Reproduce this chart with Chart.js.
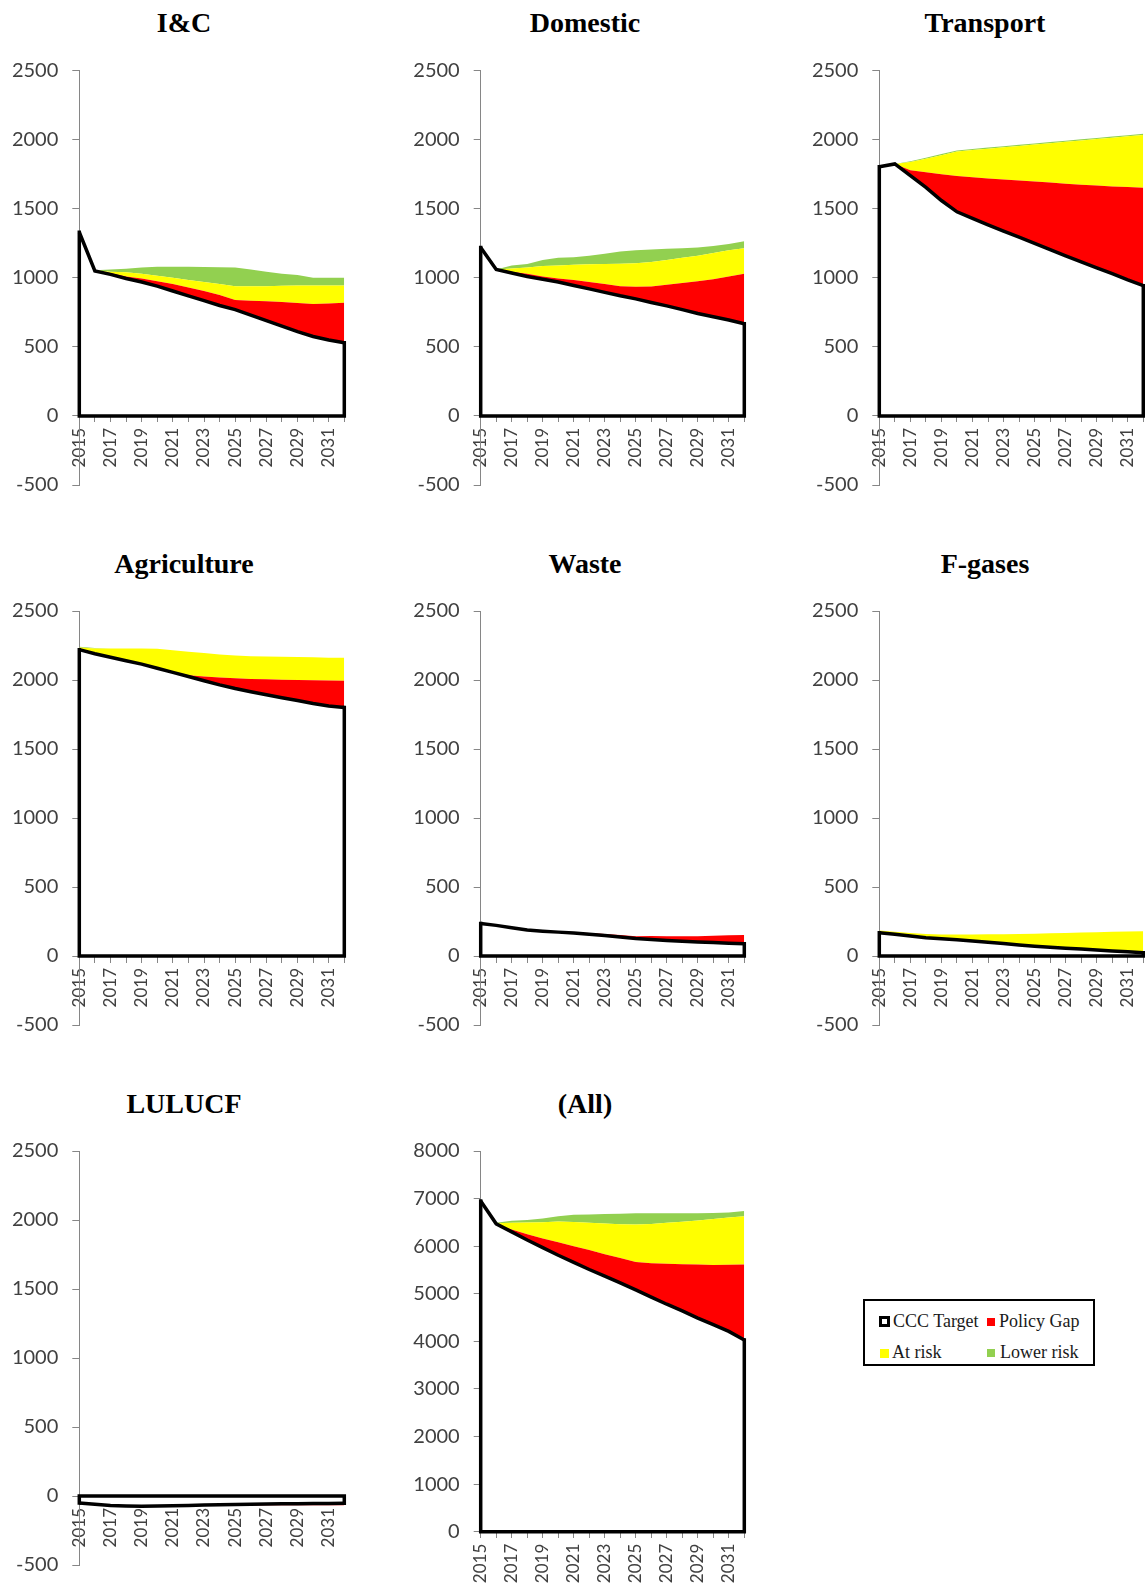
<!DOCTYPE html>
<html>
<head>
<meta charset="utf-8">
<script src="https://cdn.jsdelivr.net/npm/chart.js@4.4.1/dist/chart.umd.min.js"></script>
<style>
  html, body { margin: 0; padding: 0; background: #fff; }
  body { position: relative; width: 1145px; height: 1584px; overflow: hidden; }
  canvas { position: absolute; }
  .ptitle { position: absolute; width: 400px; text-align: center; font-family: "Liberation Serif", serif;
            font-weight: bold; font-size: 28px; line-height: 28px; color: #000; white-space: nowrap; }
  #legend { position: absolute; left: 863px; top: 1299px; width: 232px; height: 67px;
            border: 2px solid #000; box-sizing: border-box; }
  .sw { position: absolute; box-sizing: border-box; }
  .lt { position: absolute; font-family: "Liberation Serif", serif; font-size: 18px;
        line-height: 18px; color: #1a1a1a; white-space: nowrap; }
</style>
</head>
<body>
<div id="legend"></div>
<script>
// Years on the category axis (every other one is labelled)
const years = ['2015','2016','2017','2018','2019','2020','2021','2022','2023',
               '2024','2025','2026','2027','2028','2029','2030','2031','2032'];

// Industry & commercial
const icTarget    = [1330,1050,1025,995,970,940,905,870,835,800,770,730,690,650,610,575,550,530];
const icGap       = [0,5,10,15,25,35,50,60,70,75,70,105,140,175,208,235,265,290];
const icAtRisk    = [0,0,10,30,35,40,45,55,65,80,100,105,110,117,127,135,130,125];
const icLowerRisk = [0,0,15,25,45,65,80,95,108,122,135,120,105,88,75,55,55,55];

// Domestic
const domTarget    = [1220,1060,1035,1010,990,970,945,920,895,870,848,822,797,770,742,718,695,668];
const domGap       = [0,0,10,20,20,25,40,50,60,70,87,115,153,192,233,272,315,362];
const domAtRisk    = [0,0,23,45,75,95,110,128,145,162,170,178,180,183,185,190,190,185];
const domLowerRisk = [0,0,22,25,45,55,55,62,75,88,95,90,80,70,60,50,45,50];

// Transport
const trTarget    = [1805,1825,1740,1655,1560,1478,1430,1383,1338,1295,1250,1205,1160,1115,1072,1030,985,943];
const trGap       = [0,0,40,110,190,259,298,337,374,410,447,485,522,560,596,632,672,709];
const trAtRisk    = [0,0,58,97,138,178,197,215,233,250,268,285,303,320,337,353,368,383];
const trLowerRisk = [0,0,6,7,8,8,8,8,8,8,8,8,8,8,8,8,8,8];

// Agriculture
const agTarget    = [2220,2190,2165,2140,2115,2085,2055,2025,1995,1965,1938,1915,1893,1872,1851,1830,1812,1800];
const agGap       = [0,0,0,0,0,0,5,10,30,53,74,93,112,130,149,168,184,195];
const agAtRisk    = [15,38,63,88,113,142,155,170,170,167,165,165,165,166,166,166,166,166];
const agLowerRisk = [6,3,0,0,0,0,0,0,0,0,0,0,0,0,0,0,0,0];

// Waste
const wsTarget    = [235,222,205,188,180,173,166,158,148,137,127,120,113,107,102,97,92,88];
const wsGap       = [0,0,2,3,3,3,5,8,12,15,17,25,30,36,42,50,58,65];
const wsAtRisk    = [0,0,0,0,0,0,0,0,0,0,0,0,0,0,0,0,0,0];
const wsLowerRisk = [0,0,0,0,0,0,0,0,0,0,0,0,0,0,0,0,0,0];

// F-gases
const fgTarget    = [168,158,145,133,125,117,109,100,90,80,71,64,57,50,43,36,30,24];
const fgGap       = [0,0,0,0,0,0,0,0,0,0,0,0,0,0,0,0,0,0];
const fgAtRisk    = [17,17,21,27,30,38,47,57,68,80,91,101,110,120,130,139,148,156];
const fgLowerRisk = [0,0,0,0,0,0,0,0,0,0,0,0,0,0,0,0,0,0];

// Land use, land-use change and forestry
const luTarget    = [-50,-60,-68,-72,-74,-72,-70,-68,-66,-64,-62,-60,-58,-57,-56,-55,-54,-53];
const luGap       = [0,0,0,0,0,0,-2,-3,-4,-5,-6,-8,-9,-10,-11,-12,-13,-14];
const luAtRisk    = [0,0,0,0,0,0,0,0,0,0,0,0,0,0,0,0,0,0];
const luLowerRisk = [0,0,0,0,0,0,0,0,0,0,0,0,0,0,0,0,0,0];

// All sectors
const allTarget    = [6950,6470,6300,6130,5970,5810,5660,5510,5370,5230,5080,4930,4780,4640,4490,4350,4210,4030];
const allGap       = [0,0,50,120,190,270,340,410,460,520,585,710,850,980,1125,1255,1400,1585];
const allAtRisk    = [0,10,140,245,345,440,510,570,645,710,790,825,860,895,925,965,990,1015];
const allLowerRisk = [0,10,45,55,75,110,150,175,200,220,235,225,200,175,150,125,110,110];

// Legend / series names
const seriesNames = ['CCC Target', 'Policy Gap', 'At risk', 'Lower risk'];

const COLORS = { target: '#ffffff', gap: '#ff0000', atRisk: '#ffff00', lowerRisk: '#92d050' };

const panels = [
  { title: 'I&C',         col: 0, row: 0, series: [icTarget, icGap, icAtRisk, icLowerRisk],     yMin: -500, yMax: 2500, yStep: 500 },
  { title: 'Domestic',    col: 1, row: 0, series: [domTarget, domGap, domAtRisk, domLowerRisk], yMin: -500, yMax: 2500, yStep: 500 },
  { title: 'Transport',   col: 2, row: 0, series: [trTarget, trGap, trAtRisk, trLowerRisk],     yMin: -500, yMax: 2500, yStep: 500 },
  { title: 'Agriculture', col: 0, row: 1, series: [agTarget, agGap, agAtRisk, agLowerRisk],     yMin: -500, yMax: 2500, yStep: 500 },
  { title: 'Waste',       col: 1, row: 1, series: [wsTarget, wsGap, wsAtRisk, wsLowerRisk],     yMin: -500, yMax: 2500, yStep: 500 },
  { title: 'F-gases',     col: 2, row: 1, series: [fgTarget, fgGap, fgAtRisk, fgLowerRisk],     yMin: -500, yMax: 2500, yStep: 500 },
  { title: 'LULUCF',      col: 0, row: 2, series: [luTarget, luGap, luAtRisk, luLowerRisk],     yMin: -500, yMax: 2500, yStep: 500 },
  { title: '(All)',       col: 1, row: 2, series: [allTarget, allGap, allAtRisk, allLowerRisk], yMin: 0,    yMax: 8000, yStep: 1000, plotBottom: 1531.7, padBottom: 52 }
];

// Page geometry of the plot areas
const COLS = [
  { canvasLeft: 0,   plotLeft: 79.3,  plotRight: 344.3,  titleX: 184 },
  { canvasLeft: 400, plotLeft: 480.7, plotRight: 744.3,  titleX: 585 },
  { canvasLeft: 800, plotLeft: 879.3, plotRight: 1143.3, titleX: 985 }
];
const ROWS = [
  { plotTop: 70.7, plotBottom: 492.7 },
  { plotTop: 611,  plotBottom: 1032.7 },
  { plotTop: 1151, plotBottom: 1572.7 }
];
const TITLE_BASELINE_ABOVE_PLOT = 37.8;

// Outline the target area along its base and both ends, as the spreadsheet style does
const targetOutline = {
  id: 'targetOutline',
  afterDatasetsDraw(chart) {
    const pts = chart.getDatasetMeta(0).data;
    if (!pts.length) return;
    const first = pts[0], last = pts[pts.length - 1];
    const y0 = chart.scales.y.getPixelForValue(0);
    const ctx = chart.ctx;
    ctx.save();
    ctx.strokeStyle = '#000';
    ctx.lineWidth = chart.data.datasets[0].borderWidth;
    ctx.lineJoin = 'miter';
    ctx.lineCap = 'square';
    ctx.beginPath();
    ctx.moveTo(first.x, first.y);
    ctx.lineTo(first.x, y0);
    ctx.lineTo(last.x, y0);
    ctx.lineTo(last.x, last.y);
    ctx.stroke();
    ctx.restore();
  }
};

const AXIS_GREY = '#868686', LABEL_GREY = '#404040';

panels.forEach(p => {
  const c = COLS[p.col], r = ROWS[p.row];
  const plotBottom = p.plotBottom || r.plotBottom;
  const canvasTop = Math.round(r.plotTop - 70.7);
  const relTop = r.plotTop - canvasTop;
  const relLeft = c.plotLeft - c.canvasLeft;
  const relRight = c.plotRight - c.canvasLeft;
  const W = Math.ceil(relRight + 40);
  const padR = W - relRight;
  const relBottom = plotBottom - canvasTop;
  const H = Math.ceil(relBottom + (p.padBottom || 18));
  const padB = H - relBottom;

  // panel heading
  const t = document.createElement('div');
  t.className = 'ptitle';
  t.textContent = p.title;
  t.style.left = (c.titleX - 200) + 'px';
  t.style.top = (r.plotTop - TITLE_BASELINE_ABOVE_PLOT - 23.45) + 'px';
  document.body.appendChild(t);

  const canvas = document.createElement('canvas');
  canvas.width = W; canvas.height = H;
  canvas.style.left = c.canvasLeft + 'px';
  canvas.style.top = canvasTop + 'px';
  canvas.style.width = W + 'px';
  canvas.style.height = H + 'px';
  document.body.appendChild(canvas);

  const [target, gap, atRisk, lowerRisk] = p.series;
  const area = (label, data, color) => ({
    label, data, backgroundColor: color, borderColor: 'rgba(0,0,0,0)', borderWidth: 0,
    fill: '-1', pointRadius: 0, pointHoverRadius: 0, tension: 0
  });

  new Chart(canvas, {
    type: 'line',
    data: {
      labels: years,
      datasets: [
        { label: seriesNames[0], data: target, backgroundColor: COLORS.target, borderColor: '#000',
          borderWidth: 3.5, fill: 'origin', pointRadius: 0, pointHoverRadius: 0, tension: 0,
          borderJoinStyle: 'miter' },
        area(seriesNames[1], gap, COLORS.gap),
        area(seriesNames[2], atRisk, COLORS.atRisk),
        area(seriesNames[3], lowerRisk, COLORS.lowerRisk)
      ]
    },
    options: {
      responsive: false,
      animation: false,
      devicePixelRatio: 1,
      events: [],
      layout: { padding: { left: 0, right: padR, top: relTop, bottom: padB } },
      plugins: {
        legend: { display: false },
        tooltip: { enabled: false },
        title: { display: false }
      },
      scales: {
        x: {
          type: 'category',
          offset: false,
          position: { y: 0 },
          grid: { display: true, drawOnChartArea: false, drawTicks: true, tickLength: 6, color: AXIS_GREY, offset: false },
          border: { display: true, color: AXIS_GREY, width: 1 },
          ticks: {
            autoSkip: false, minRotation: 90, maxRotation: 90, padding: 6,
            color: LABEL_GREY, font: { family: 'Lato, sans-serif', size: 17 },
            callback: (v, i) => (i % 2 === 0 ? years[i] : '')
          }
        },
        y: {
          stacked: true,
          min: p.yMin, max: p.yMax,
          afterFit: s => { s.width = relLeft; },
          grid: { display: true, drawOnChartArea: false, drawTicks: true, tickLength: 7, color: AXIS_GREY },
          border: { display: true, color: AXIS_GREY, width: 1 },
          ticks: {
            stepSize: p.yStep, padding: 14, color: LABEL_GREY,
            font: { family: 'Lato, sans-serif', size: 20 },
            callback: v => String(v)
          }
        }
      }
    },
    plugins: [targetOutline]
  });
});

// Legend (2 x 2 grid of swatches and names)
const legendItems = [
  { name: seriesNames[0], sw: { left: 879, top: 1316, size: 11, fill: COLORS.target, border: 3 }, textLeft: 893, baseline: 1327.3 },
  { name: seriesNames[1], sw: { left: 987, top: 1318, size: 8, fill: COLORS.gap, border: 0 },     textLeft: 999, baseline: 1327.3 },
  { name: seriesNames[2], sw: { left: 880, top: 1349, size: 9, fill: COLORS.atRisk, border: 0 },  textLeft: 892, baseline: 1358.5 },
  { name: seriesNames[3], sw: { left: 987, top: 1349, size: 8, fill: COLORS.lowerRisk, border: 0 }, textLeft: 1000, baseline: 1358.5 }
];
legendItems.forEach(it => {
  const s = document.createElement('div');
  s.className = 'sw';
  s.style.left = it.sw.left + 'px';
  s.style.top = it.sw.top + 'px';
  s.style.width = it.sw.size + 'px';
  s.style.height = it.sw.size + 'px';
  s.style.background = it.sw.fill;
  if (it.sw.border) s.style.border = it.sw.border + 'px solid #000';
  document.body.appendChild(s);
  const t = document.createElement('div');
  t.className = 'lt';
  t.textContent = it.name;
  t.style.left = it.textLeft + 'px';
  t.style.top = (it.baseline - 15.1) + 'px';
  document.body.appendChild(t);
});
</script>
</body>
</html>
